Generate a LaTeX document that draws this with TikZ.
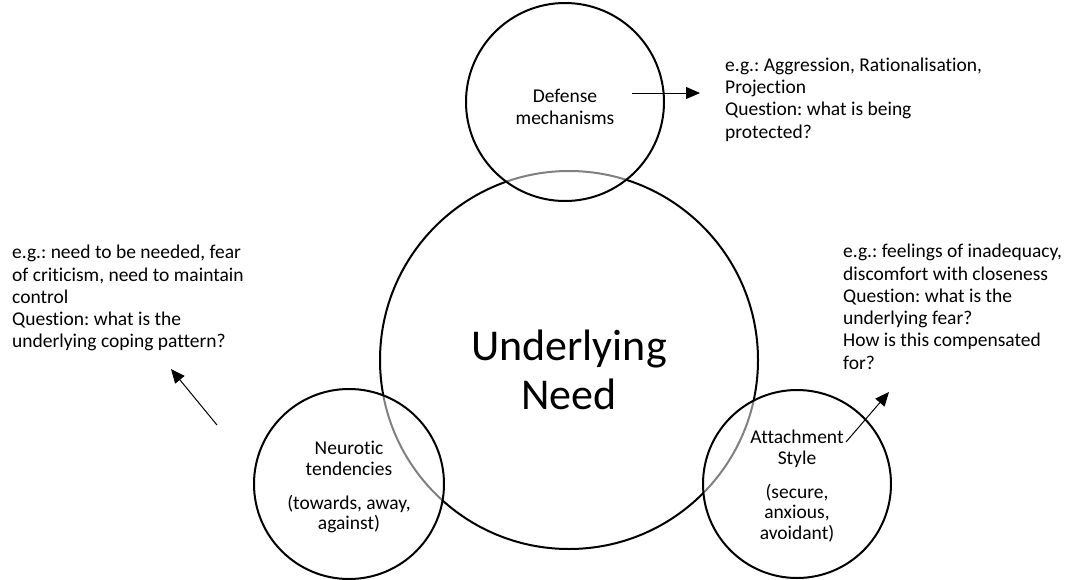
\documentclass[tikz,border=0pt]{standalone}
\usepackage{fontspec}
\setmainfont{Carlito}[Ligatures=NoCommon]
\usetikzlibrary{arrows.meta}
\frenchspacing

\begin{document}
\begin{tikzpicture}[x=1pt,y=-1pt,
    need/.style = {draw, circle, line width=2pt, inner sep=0pt},
    facet/.style = {need, fill=white, fill opacity=0.5},
    inside/.style = {inner sep=0pt, align=center, font=\fontsize{19.5}{20.5}\selectfont},
    note/.style = {anchor=north west, inner sep=0pt, align=left, font=\fontsize{19.5}{22.3}\selectfont},
    pointer/.style = {line width=1pt, -{Triangle[length=14pt,width=12pt]}}]
        \useasboundingbox (0,0) rectangle (1074,579);
        % centre and the three facets
        \node[need, minimum size=378pt] (Need) at (569,360) {};
        \node[facet, minimum size=198pt] (Defense) at (565,102) {};
        \node[facet, minimum size=190pt] (Neurotic) at (349,484) {};
        \node[facet, minimum size=188pt] (Attachment) at (797,484) {};
        % texts in the circles
        \node[inside, font=\fontsize{44}{48.5}\selectfont] (NeedText) at ([yshift=-10pt]Need.center) {Underlying\\Need};
        \node[inside, font=\fontsize{19.5}{22}\selectfont] (DefenseText) at ([yshift=-5pt]Defense.center) {Defense\\mechanisms};
        \node[inside] (NeuroticText) at ([yshift=-3pt]Neurotic.center) {Neurotic\\tendencies\\[13.5pt](towards, away,\\against)};
        \node[inside] (AttachmentText) at ([yshift=-2pt]Attachment.center) {Attachment\\Style\\[13.5pt](secure,\\anxious,\\avoidant)};
        % notes
        \node[note] (DefenseNote) at (725,57.5) {e.g.: Aggression, Rationalisation,\\Projection\\Question: what is being\\protected?};
        \node[note] (CopingNote) at (12,245) {e.g.: need to be needed, fear\\of criticism, need to maintain\\control\\Question: what is the\\underlying coping pattern?};
        \node[note] (FearNote) at (843,244) {e.g.: feelings of inadequacy,\\discomfort with closeness\\Question: what is the\\underlying fear?\\How is this compensated\\for?};
        % arrows
        \coordinate (defTail) at (632,93);
        \coordinate (defTip) at (700,93);
        \coordinate (neuTail) at (217,425);
        \coordinate (neuTip) at (171,369);
        \coordinate (attTail) at (846,442);
        \coordinate (attTip) at (889,392);
        \draw[pointer] (defTail) -- (defTip);
        \draw[pointer] (neuTail) -- (neuTip);
        \draw[pointer] (attTail) -- (attTip);
    \end{tikzpicture}
\end{document}
